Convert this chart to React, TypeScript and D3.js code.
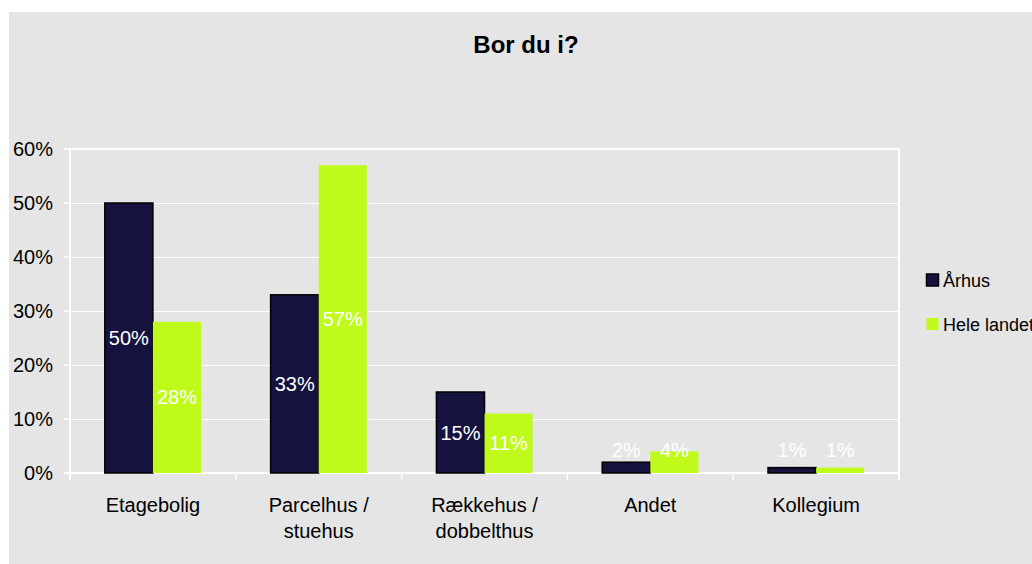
import * as d3 from "d3";

// chart data
const categories = ["Etagebolig", "Parcelhus / stuehus", "Rækkehus / dobbelthus", "Andet", "Kollegium"];
const categoryLines = [["Etagebolig"], ["Parcelhus /", "stuehus"], ["Rækkehus /", "dobbelthus"], ["Andet"], ["Kollegium"]];
const seriesNames = ["Århus", "Hele landet"];
const aarhus = [50, 33, 15, 2, 1];
const heleLandet = [28, 57, 11, 4, 1];
const yTicks = [0, 10, 20, 30, 40, 50, 60];

const colors = ["#16123f", "#bffa1a"];
const font = "Arial, 'Liberation Sans', sans-serif";

export default function App() {
  const width = 1032;
  const height = 564;
  const plot = { left: 70, right: 899, top: 149, bottom: 473 };

  const x0 = d3.scaleBand().domain(categories).range([plot.left, plot.right]).padding(0);
  const bw = x0.bandwidth();
  const gap = bw * 0.21;
  const x1 = d3.scaleBand().domain(seriesNames).range([gap, bw - gap]).padding(0);
  const y = d3.scaleLinear().domain([0, 60]).range([plot.bottom, plot.top]);

  const series = [aarhus, heleLandet];

  return (
    <svg
      width={width}
      height={height}
      style={{ position: "absolute", left: 0, top: 0, fontFamily: font }}
    >
      <rect x={0} y={0} width={width} height={height} fill="#ffffff" />
      <rect x={9} y={12} width={width} height={height} fill="#e5e5e5" />

      <text x={526} y={53} textAnchor="middle" fontSize={24} fontWeight="bold" fill="#000">
        Bor du i?
      </text>

      {/* gridlines */}
      {yTicks.slice(1, -1).map((t) => (
        <line key={t} x1={plot.left} x2={plot.right} y1={Math.round(y(t)) + 0.5} y2={Math.round(y(t)) + 0.5} stroke="#ffffff" strokeWidth={1} />
      ))}
      {/* frame */}
      <line x1={plot.left} x2={plot.right} y1={plot.top} y2={plot.top} stroke="#ffffff" strokeWidth={2} />
      <line x1={plot.right} x2={plot.right} y1={plot.top} y2={plot.bottom + 7} stroke="#ffffff" strokeWidth={2} />
      <line x1={plot.left} x2={plot.left} y1={plot.top} y2={plot.bottom + 7} stroke="#ffffff" strokeWidth={2} />
      <line x1={plot.left - 6} x2={plot.right} y1={plot.bottom} y2={plot.bottom} stroke="#ffffff" strokeWidth={2} />

      {/* y ticks */}
      {yTicks.map((t) => (
        <g key={t}>
          <line x1={plot.left - 6} x2={plot.left} y1={y(t)} y2={y(t)} stroke="#ffffff" strokeWidth={1.5} />
          <text x={53} y={y(t) + 7} textAnchor="end" fontSize={20} fill="#000">
            {t}%
          </text>
        </g>
      ))}

      {/* x ticks */}
      {categories.map((c) => (
        <line key={c} x1={x0(c)!} x2={x0(c)!} y1={plot.bottom} y2={plot.bottom + 7} stroke="#ffffff" strokeWidth={1.5} />
      ))}

      {/* bars */}
      {series.map((vals, si) =>
        vals.map((v, i) => {
          const bx = x0(categories[i])! + x1(seriesNames[si])!;
          const by = y(v);
          return (
            <rect
              key={si + "-" + i}
              x={bx}
              y={by}
              width={x1.bandwidth()}
              height={plot.bottom - by}
              fill={colors[si]}
              stroke={si === 0 ? "#000" : "none"}
              strokeWidth={1.5}
            />
          );
        })
      )}

      {/* data labels */}
      {series.map((vals, si) =>
        vals.map((v, i) => {
          const cx = x0(categories[i])! + x1(seriesNames[si])! + x1.bandwidth() / 2;
          const cy = Math.min((y(v) + plot.bottom) / 2, plot.bottom - 23);
          return (
            <text key={"l" + si + "-" + i} x={cx} y={cy + 7} textAnchor="middle" fontSize={20} fill="#ffffff">
              {v}%
            </text>
          );
        })
      )}

      {/* category labels */}
      {categories.map((c, i) => (
        <text key={c} x={x0(c)! + bw / 2} y={512} textAnchor="middle" fontSize={20} fill="#000">
          {categoryLines[i].map((line, li) => (
            <tspan key={li} x={x0(c)! + bw / 2} dy={li === 0 ? 0 : 26}>
              {line}
            </tspan>
          ))}
        </text>
      ))}

      {/* legend */}
      {seriesNames.map((s, si) => (
        <g key={s} transform={`translate(926, ${274 + si * 44})`}>
          <rect
            x={0.5}
            y={0}
            width={12}
            height={12}
            fill={colors[si]}
            stroke={si === 0 ? "#000" : "none"}
            strokeWidth={1.5}
          />
          <text x={17} y={13} fontSize={18} fill="#000">
            {s}
          </text>
        </g>
      ))}
    </svg>
  );
}
